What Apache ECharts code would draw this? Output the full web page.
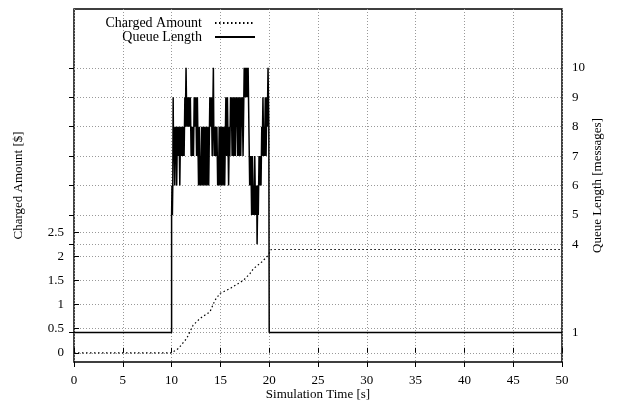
<!DOCTYPE html>
<html>
<head>
<meta charset="utf-8">
<script src="https://cdn.jsdelivr.net/npm/echarts@6/dist/echarts.min.js"></script>
<style>
  html, body { margin: 0; padding: 0; background: #fff; }
  #chart { width: 619px; height: 407px; }
</style>
</head>
<body>
<div id="chart"></div>
<script>
// x axis ticks (seconds)
var timeTicks = [0, 5, 10, 15, 20, 25, 30, 35, 40, 45, 50];
// left axis ticks ($)
var chargeTicks = [0, 0.5, 1, 1.5, 2, 2.5];
// right axis ticks (messages)
var queueTicks = [1, 4, 5, 6, 7, 8, 9, 10];

// Charged Amount
var chargeTimes = [0, 10, 10.7, 11.55, 12.2, 12.9, 13.93, 14.45, 14.96, 15.98, 17.35, 18.03, 18.37, 19.23, 19.9, 20.2, 50];
var chargeValues = [0, 0, 0.09, 0.3, 0.57, 0.71, 0.85, 1.09, 1.23, 1.33, 1.5, 1.64, 1.74, 1.88, 2.02, 2.14, 2.14];

// Queue Length, step values (value holds until the next time)
var queueTimes = [
  0, 10.00, 10.04, 10.08, 10.12, 10.16, 10.20, 10.24, 10.28, 10.32, 10.36, 10.40, 10.44, 10.48, 10.52, 10.56,
  10.60, 10.64, 10.68, 10.72, 10.76, 10.80, 10.84, 10.88, 10.92, 10.96, 11.00, 11.04, 11.08, 11.12, 11.16, 11.20,
  11.24, 11.28, 11.32, 11.36, 11.40, 11.44, 11.48, 11.52, 11.56, 11.60, 11.64, 11.68, 11.72, 11.76, 11.80, 11.84,
  11.88, 11.92, 11.96, 12.00, 12.04, 12.08, 12.12, 12.16, 12.20, 12.24, 12.28, 12.32, 12.36, 12.40, 12.44, 12.48,
  12.52, 12.56, 12.60, 12.64, 12.68, 12.72, 12.76, 12.80, 12.84, 12.88, 12.92, 12.96, 13.00, 13.04, 13.08, 13.12,
  13.16, 13.20, 13.24, 13.28, 13.32, 13.36, 13.40, 13.44, 13.48, 13.52, 13.56, 13.60, 13.64, 13.68, 13.72, 13.76,
  13.80, 13.84, 13.88, 13.92, 13.96, 14.00, 14.04, 14.08, 14.12, 14.16, 14.20, 14.24, 14.28, 14.32, 14.36, 14.40,
  14.44, 14.48, 14.52, 14.56, 14.60, 14.64, 14.68, 14.72, 14.76, 14.80, 14.84, 14.88, 14.92, 14.96, 15.00, 15.04,
  15.08, 15.12, 15.16, 15.20, 15.24, 15.28, 15.32, 15.36, 15.40, 15.44, 15.48, 15.52, 15.56, 15.60, 15.64, 15.68,
  15.72, 15.76, 15.80, 15.84, 15.88, 15.92, 15.96, 16.00, 16.04, 16.08, 16.12, 16.16, 16.20, 16.24, 16.28, 16.32,
  16.36, 16.40, 16.44, 16.48, 16.52, 16.56, 16.60, 16.64, 16.68, 16.72, 16.76, 16.80, 16.84, 16.88, 16.92, 16.96,
  17.00, 17.04, 17.08, 17.12, 17.16, 17.20, 17.24, 17.28, 17.32, 17.36, 17.40, 17.44, 17.48, 17.52, 17.56, 17.60,
  17.64, 17.68, 17.72, 17.76, 17.80, 17.84, 17.88, 17.92, 17.96, 18.00, 18.04, 18.08, 18.12, 18.16, 18.20, 18.24,
  18.28, 18.32, 18.36, 18.40, 18.44, 18.48, 18.52, 18.56, 18.60, 18.64, 18.68, 18.72, 18.76, 18.80, 18.84, 18.88,
  18.92, 18.96, 19.00, 19.04, 19.08, 19.12, 19.16, 19.20, 19.24, 19.28, 19.32, 19.36, 19.40, 19.44, 19.48, 19.52,
  19.56, 19.60, 19.64, 19.68, 19.72, 19.76, 19.80, 19.84, 19.88, 19.92, 19.96, 20.00, 50
];
var queueValues = [
  1, 5, 6, 5, 6, 9, 7, 8, 7, 6, 7, 8, 7, 8, 6, 7,
  8, 7, 8, 7, 8, 7, 6, 7, 8, 7, 8, 7, 8, 7, 8, 7,
  8, 7, 8, 9, 8, 9, 10, 9, 8, 9, 8, 9, 8, 9, 8, 9,
  8, 9, 8, 7, 8, 7, 8, 7, 8, 7, 8, 9, 8, 9, 8, 9,
  8, 7, 8, 9, 8, 7, 6, 7, 8, 7, 6, 7, 6, 7, 8, 7,
  6, 7, 8, 7, 6, 7, 8, 7, 6, 7, 8, 7, 6, 7, 8, 7,
  6, 7, 8, 9, 8, 9, 8, 9, 8, 7, 8, 9, 10, 8, 7, 8,
  7, 8, 7, 8, 7, 8, 7, 6, 7, 6, 7, 8, 7, 6, 7, 8,
  7, 6, 7, 8, 7, 6, 7, 8, 7, 6, 7, 8, 9, 8, 7, 8,
  9, 8, 7, 6, 7, 8, 7, 8, 9, 8, 9, 8, 7, 8, 9, 8,
  7, 8, 9, 8, 7, 8, 9, 8, 9, 8, 7, 8, 9, 8, 7, 8,
  9, 8, 7, 8, 9, 8, 9, 8, 7, 8, 9, 10, 9, 10, 9, 10,
  9, 10, 9, 10, 9, 10, 9, 8, 7, 6, 7, 6, 7, 6, 5, 6,
  7, 6, 5, 6, 5, 6, 7, 6, 5, 6, 5, 6, 4, 5, 6, 5,
  6, 7, 6, 7, 6, 7, 6, 7, 8, 7, 8, 9, 8, 7, 8, 7,
  8, 9, 8, 7, 8, 9, 8, 9, 10, 9, 8, 1, 1
];

function pairs(xs, ys) {
  return xs.map(function (x, i) { return [x, ys[i]]; });
}

var font = "Liberation Serif";
var gridLine = { show: true, lineStyle: { color: "#999", type: [1, 2], width: 1 } };

var myChart = echarts.init(document.getElementById("chart"), null, { renderer: "canvas" });

// legend entries: text first, line sample on the right (gnuplot key style)
function keyLegend(name, top) {
  return {
    data: [name],
    right: 358,
    top: top,
    align: "right",
    itemWidth: 40,
    itemHeight: 10,
    itemStyle: { opacity: 0 },
    textStyle: { fontFamily: font, fontSize: 14, color: "#000", padding: [0, 8, 0, 0] }
  };
}

var option = {
  animation: false,
  textStyle: { fontFamily: font, color: "#000" },
  legend: [keyLegend("Charged Amount", 11), keyLegend("Queue Length", 25)],
  grid: {
    left: 74,
    right: 57,
    top: 9,
    bottom: 45,
    outerBoundsMode: "none",
    show: true,
    borderColor: "#000",
    borderWidth: 1.5
  },
  xAxis: [
    {
      type: "value",
      min: 0,
      max: 50,
      interval: 5,
      name: "Simulation Time [s]",
      nameLocation: "middle",
      nameGap: 26,
      nameMoveOverlap: false,
      nameTextStyle: { fontFamily: font, fontSize: 13, color: "#000" },
      axisLine: { show: false },
      axisTick: { inside: true, length: 5, lineStyle: { color: "#000" } },
      axisLabel: { fontFamily: font, fontSize: 13, color: "#000", margin: 12,
        customValues: timeTicks },
      splitLine: gridLine
    },
    {
      type: "value",
      position: "top",
      min: 0,
      max: 50,
      interval: 5,
      axisLine: { show: false },
      axisTick: { inside: true, length: 5, lineStyle: { color: "#000" } },
      axisLabel: { show: false },
      splitLine: { show: false }
    }
  ],
  yAxis: [
    {
      type: "value",
      min: -0.19,
      max: 7.12,
      name: "Charged Amount [$]",
      nameLocation: "middle",
      nameRotate: 90,
      nameGap: 49,
      nameMoveOverlap: false,
      nameTextStyle: { fontFamily: font, fontSize: 13, color: "#000" },
      axisLine: { show: false },
      axisTick: { inside: true, length: 5, lineStyle: { color: "#000" }, customValues: chargeTicks },
      axisLabel: { fontFamily: font, fontSize: 13, color: "#000", margin: 10, customValues: chargeTicks },
      splitLine: gridLine
    },
    {
      type: "value",
      position: "right",
      min: 0,
      max: 12,
      name: "Queue Length [messages]",
      nameLocation: "middle",
      nameRotate: 90,
      nameGap: 29,
      nameMoveOverlap: false,
      nameTextStyle: { fontFamily: font, fontSize: 13, color: "#000" },
      axisLine: { show: false },
      axisTick: { inside: true, length: 5, lineStyle: { color: "#000" }, customValues: queueTicks },
      axisLabel: { fontFamily: font, fontSize: 13, color: "#000", margin: 10, customValues: queueTicks },
      splitLine: gridLine
    }
  ],
  series: [
    {
      name: "Charged Amount",
      type: "line",
      xAxisIndex: 0,
      yAxisIndex: 0,
      symbol: "none",
      color: "#000",
      lineStyle: { color: "#000", width: 1.2, type: [1.5, 2.5] },
      data: pairs(chargeTimes, chargeValues)
    },
    {
      name: "Queue Length",
      type: "line",
      xAxisIndex: 0,
      yAxisIndex: 1,
      step: "end",
      symbol: "none",
      color: "#000",
      lineStyle: { color: "#000", width: 1.5 },
      data: pairs(queueTimes, queueValues)
    }
  ]
};

myChart.setOption(option);
window.addEventListener("resize", function () {
  myChart.resize();
});
</script>
</body>
</html>
